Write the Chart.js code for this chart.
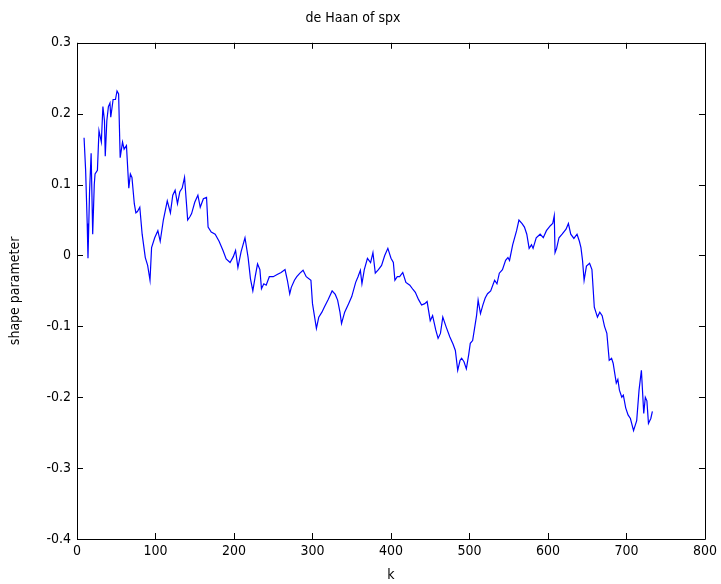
<!DOCTYPE html>
<html>
<head>
<meta charset="utf-8">
<script src="https://cdn.jsdelivr.net/npm/chart.js@4"></script>
<style>
  html, body { margin: 0; padding: 0; background: #fff; }
  canvas { display: block; }
</style>
</head>
<body>
<canvas id="myChart" width="721" height="584"></canvas>
<script>
// k values (uneven steps, where the curve turns)
const k_values = [
  9, 11, 13, 14, 16, 18, 20, 22, 23, 26, 28, 31, 33, 35, 36, 38, 40, 42, 43, 46,
  49, 51, 53, 55, 58, 60, 63, 66, 68, 70, 73, 75, 77, 80, 83, 87, 90, 93, 95, 99,
  103, 106, 110, 115, 119, 122, 125, 128, 131, 134, 137, 139, 141, 144, 146, 150, 154, 157, 161, 165,
  167, 171, 176, 181, 186, 190, 195, 199, 202, 205, 209, 214, 218, 221, 224, 227, 230, 233, 235, 238,
  241, 245, 250, 255, 260, 265, 268, 271, 273, 277, 280, 284, 288, 292, 298, 300, 305, 308, 312, 315,
  320, 325, 329, 332, 335, 337, 341, 346, 350, 355, 358, 361, 363, 366, 370, 374, 377, 380, 384, 388,
  392, 396, 400, 403, 405, 408, 411, 415, 419, 424, 428, 431, 435, 439, 443, 446, 450, 453, 457, 460,
  463, 466, 470, 475, 479, 482, 485, 488, 490, 493, 496, 499, 501, 504, 506, 509, 511, 514, 517, 520,
  523, 527, 532, 535, 538, 542, 546, 549, 551, 555, 560, 563, 567, 570, 573, 576, 579, 581, 585, 590,
  594, 598, 603, 606, 608, 609, 611, 614, 618, 623, 626, 629, 633, 637, 640, 642, 644, 646, 649, 653,
  656, 659, 663, 666, 669, 672, 675, 678, 681, 683, 687, 689, 691, 694, 696, 699, 702, 705, 709, 711,
  713, 716, 719, 722, 724, 726, 728, 731, 733
];

// shape parameter estimates at those k
const shape_values = [
  0.166, 0.12, 0.045, -0.004, 0.09, 0.144, 0.03, 0.10, 0.115, 0.12, 0.176, 0.16, 0.21, 0.19, 0.14, 0.19, 0.21, 0.215, 0.195, 0.22,
  0.22, 0.232, 0.228, 0.138, 0.16, 0.15, 0.155, 0.095, 0.115, 0.11, 0.073, 0.06, 0.062, 0.068, 0.03, -0.003, -0.014, -0.035, 0.011, 0.025,
  0.035, 0.02, 0.05, 0.077, 0.06, 0.085, 0.092, 0.073, 0.09, 0.095, 0.11, 0.08, 0.05, 0.055, 0.059, 0.075, 0.085, 0.068, 0.08, 0.082,
  0.04, 0.033, 0.03, 0.02, 0.007, -0.005, -0.01, -0.002, 0.007, -0.017, 0.005, 0.025, -0.003, -0.033, -0.05, -0.03, -0.012, -0.02, -0.047, -0.04,
  -0.042, -0.03, -0.03, -0.027, -0.024, -0.02, -0.035, -0.054, -0.045, -0.035, -0.03, -0.025, -0.021, -0.03, -0.035, -0.068, -0.103, -0.087, -0.08, -0.073,
  -0.062, -0.05, -0.055, -0.063, -0.08, -0.096, -0.08, -0.068, -0.058, -0.038, -0.03, -0.021, -0.04, -0.02, -0.004, -0.01, 0.004, -0.025, -0.02, -0.014,
  0.0, 0.01, -0.004, -0.01, -0.035, -0.03, -0.03, -0.024, -0.038, -0.042, -0.048, -0.052, -0.062, -0.07, -0.068, -0.065, -0.092, -0.085, -0.105, -0.117,
  -0.11, -0.087, -0.1, -0.115, -0.125, -0.134, -0.162, -0.148, -0.145, -0.15, -0.16, -0.14, -0.124, -0.12, -0.106, -0.085, -0.063, -0.082, -0.07, -0.06,
  -0.054, -0.05, -0.035, -0.04, -0.025, -0.02, -0.007, -0.003, -0.007, 0.015, 0.035, 0.05, 0.045, 0.04, 0.03, 0.01, 0.015, 0.01, 0.025, 0.03,
  0.025, 0.035, 0.042, 0.045, 0.056, 0.004, 0.01, 0.025, 0.03, 0.037, 0.045, 0.03, 0.024, 0.03, 0.02, 0.011, -0.007, -0.035, -0.015, -0.011,
  -0.02, -0.073, -0.087, -0.08, -0.085, -0.1, -0.11, -0.148, -0.145, -0.152, -0.18, -0.175, -0.19, -0.2, -0.197, -0.215, -0.225, -0.23, -0.247, -0.24,
  -0.233, -0.19, -0.162, -0.223, -0.2, -0.205, -0.237, -0.23, -0.22
];

const x_ticks = [0, 100, 200, 300, 400, 500, 600, 700, 800];
const y_ticks = [0.3, 0.2, 0.1, 0, -0.1, -0.2, -0.3, -0.4];

const FONT = "'DejaVu Sans Condensed', 'Liberation Sans', Arial, sans-serif";

let points = [];
for (let i = 0; i < k_values.length; i++) {
  points.push({ x: k_values[i], y: shape_values[i] });
}

// MATLAB style box with inward ticks on all four sides
const boxTicks = {
  id: 'boxTicks',
  afterDraw(chart) {
    const ctx = chart.ctx;
    const a = chart.chartArea;
    const xs = chart.scales.x;
    const ys = chart.scales.y;
    const len = 6;
    ctx.save();
    ctx.strokeStyle = '#000';
    ctx.lineWidth = 1;
    ctx.beginPath();
    ctx.rect(Math.round(a.left) + 0.5, Math.round(a.top) + 0.5,
             Math.round(a.right - a.left), Math.round(a.bottom - a.top));
    for (let i = 0; i < x_ticks.length; i++) {
      let px = Math.round(xs.getPixelForValue(x_ticks[i])) + 0.5;
      ctx.moveTo(px, a.bottom); ctx.lineTo(px, a.bottom - len);
      ctx.moveTo(px, a.top); ctx.lineTo(px, a.top + len);
    }
    for (let i = 0; i < y_ticks.length; i++) {
      let py = Math.round(ys.getPixelForValue(y_ticks[i])) + 0.5;
      ctx.moveTo(a.left, py); ctx.lineTo(a.left + len, py);
      ctx.moveTo(a.right, py); ctx.lineTo(a.right - len, py);
    }
    ctx.stroke();
    ctx.restore();
  }
};

const config = {
  type: 'line',
  data: {
    datasets: [{
      label: 'shape parameter',
      data: points,
      borderColor: 'rgb(0, 0, 255)',
      borderWidth: 1.2,
      pointRadius: 0,
      tension: 0,
      fill: false
    }]
  },
  options: {
    responsive: false,
    animation: false,
    layout: { padding: { left: 0, right: 15, top: 0, bottom: 0 } },
    plugins: {
      legend: { display: false },
      tooltip: { enabled: false },
      title: {
        display: true,
        text: 'de Haan of spx',
        color: '#000',
        font: { family: FONT, size: 14, weight: 'normal' },
        padding: { top: 10, bottom: 16 }
      }
    },
    scales: {
      x: {
        type: 'linear',
        min: 0,
        max: 800,
        afterBuildTicks(scale) {
          scale.ticks = x_ticks.map(v => ({ value: v }));
        },
        afterFit(scale) { scale.height = 45; },
        grid: { display: false, drawTicks: false },
        border: { display: false },
        ticks: {
          color: '#000',
          padding: 4,
          maxRotation: 0,
          font: { family: FONT, size: 14 },
          callback: v => String(v)
        },
        title: {
          display: true,
          text: 'k',
          color: '#000',
          padding: { top: 0, bottom: 0 },
          font: { family: FONT, size: 14 }
        }
      },
      y: {
        type: 'linear',
        min: -0.4,
        max: 0.3,
        afterBuildTicks(scale) {
          scale.ticks = y_ticks.map(v => ({ value: v }));
        },
        afterFit(scale) { scale.width = 77; },
        grid: { display: false, drawTicks: false },
        border: { display: false },
        ticks: {
          color: '#000',
          padding: 6,
          font: { family: FONT, size: 14 },
          callback: v => String(Math.round(v * 10) / 10)
        },
        title: {
          display: true,
          text: 'shape parameter',
          color: '#000',
          padding: { top: 7, bottom: 0 },
          font: { family: FONT, size: 14 }
        }
      }
    }
  },
  plugins: [boxTicks]
};

const myChart = new Chart(document.getElementById('myChart'), config);
</script>
</body>
</html>
